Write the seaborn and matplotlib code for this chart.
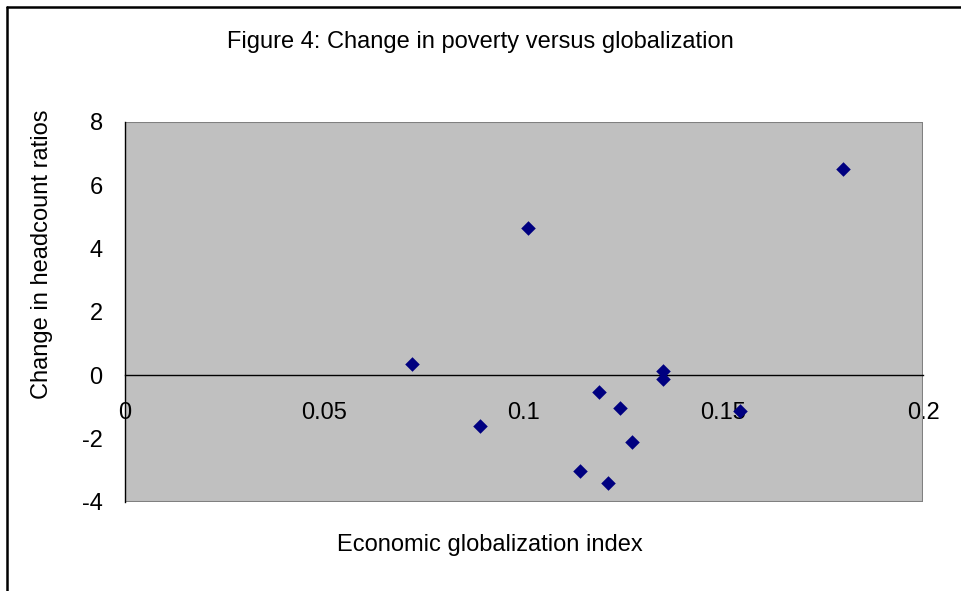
import numpy as np
import pandas as pd
import seaborn as sns
import matplotlib.pyplot as plt
from matplotlib.patches import Rectangle
from matplotlib.lines import Line2D

# values
globalization = [0.0719, 0.0890, 0.1010, 0.1140, 0.1189, 0.1210, 0.1240,
                 0.1270, 0.1349, 0.1349, 0.1541, 0.1800]
headcount_change = [0.37, -1.59, 4.64, -3.03, -0.52, -3.41, -1.02,
                    -2.10, 0.14, -0.13, -1.12, 6.52]
x_ticks = [0, 0.05, 0.1, 0.15, 0.2]
x_ticklabels = ["0", "0.05", "0.1", "0.15", "0.2"]
y_ticks = [-4, -2, 0, 2, 4, 6, 8]

df = pd.DataFrame({"x": globalization, "y": headcount_change})

sns.set_theme(style="white")
plt.rcParams["font.family"] = ["Liberation Sans", "DejaVu Sans"]
plt.rcParams["text.color"] = "black"
plt.rcParams["xtick.color"] = "black"
plt.rcParams["ytick.color"] = "black"

fig = plt.figure(figsize=(9.61, 5.91), dpi=100)
ax = fig.add_axes([0.130, 0.1506, 0.8305, 0.643])
ax.set_facecolor("#c0c0c0")

sns.scatterplot(data=df, x="x", y="y", marker="D", color="#000080",
                s=55, linewidth=0, ax=ax, zorder=5, clip_on=False)

ax.set_xlim(0, 0.2)
ax.set_ylim(-4, 8)
ax.set_xticks(x_ticks)
ax.set_xticklabels(x_ticklabels)
ax.set_yticks(y_ticks)
ax.set_yticklabels([str(v) for v in y_ticks])

# x axis crosses at zero like an Excel chart
ax.spines["bottom"].set_position(("data", 0))
ax.spines["bottom"].set_color("black")
ax.spines["bottom"].set_linewidth(1.0)
ax.spines["left"].set_color("black")
ax.spines["left"].set_linewidth(1.0)
ax.spines["top"].set_visible(False)
ax.spines["right"].set_visible(False)
ax.add_patch(Rectangle((0, 0), 1, 1, transform=ax.transAxes, fill=False,
                       edgecolor="#808080", linewidth=1.5, zorder=1))

ax.tick_params(axis="x", direction="out", length=6, width=1,
               labelsize=17, labelcolor="black", pad=13)
ax.tick_params(axis="y", direction="out", length=6, width=1,
               labelsize=17, labelcolor="black", pad=10)
for lbl in ax.get_xticklabels():
    lbl.set_zorder(6)

ax.set_xlabel("")
ax.set_ylabel("")
fig.text(0.044, 1 - 254 / 591, "Change in headcount ratios", fontsize=17,
         rotation=90, ha="center", va="center")
fig.text(0.51, 0.0775, "Economic globalization index", fontsize=17,
         ha="center", va="center")
fig.text(0.5, 0.929, "Figure 4: Change in poverty versus globalization",
         fontsize=17, ha="center", va="center")

# chart frame (left and top edges visible in the crop)
fig.add_artist(Line2D([0.0073, 0.0073], [0, 0.988], color="black", linewidth=1.8))
fig.add_artist(Line2D([0.0073, 1.0], [0.988, 0.988], color="black", linewidth=1.8))

fig.savefig("out.png", dpi=100)
